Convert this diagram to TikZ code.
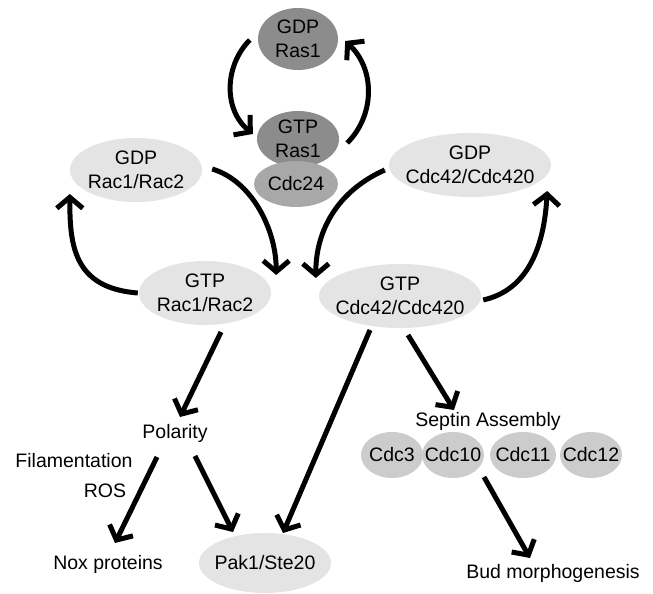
\documentclass[tikz,border=0pt]{standalone}
\usepackage{fontspec}
\setmainfont{Liberation Sans}
\usetikzlibrary{arrows.meta,shapes.geometric}
\definecolor{rasgray}{RGB}{140,140,140}
\definecolor{cdcgray}{RGB}{168,168,168}
\definecolor{sepgray}{RGB}{204,204,204}
\definecolor{lightg}{RGB}{228,228,228}
\newcommand\fsz{\fontsize{19.5}{23.5}\selectfont}
\begin{document}
\begin{tikzpicture}[x=1pt,y=1pt,
  ell/.style={ellipse,inner sep=-20pt,align=center,font=\fsz},
  lab/.style={inner sep=0pt,font=\fsz},
  arr/.style={line width=5pt,-{Straight Barb[length=11pt,width=26pt]}}]
\useasboundingbox (0,0) rectangle (653,594);
% GTPase ellipses
\node[ell,fill=lightg,minimum width=132pt,minimum height=64pt] (racgdp) at (136,424) {GDP\\Rac1/Rac2};
\node[ell,fill=lightg,minimum width=132pt,minimum height=64pt] (racgtp) at (205,301) {GTP\\Rac1/Rac2};
\node[ell,fill=lightg,minimum width=162pt,minimum height=64pt] (cdcgdp) at (470,429) {GDP\\Cdc42/Cdc420};
\node[ell,fill=lightg,minimum width=162pt,minimum height=64pt] (cdcgtp) at (400,298) {GTP\\Cdc42/Cdc420};
\node[ell,fill=rasgray,minimum width=80pt,minimum height=62pt] (rasgdp) at (298,555) {GDP\\Ras1};
\node[ell,fill=rasgray,minimum width=82pt,minimum height=56pt] (rasgtp) at (298,455) {GTP\\Ras1};
\node[ell,fill=cdcgray,minimum width=84pt,minimum height=46pt] (cdc24) at (296,410) {Cdc24};
\node[ell,fill=lightg,minimum width=132pt,minimum height=60pt] (pak) at (265,31) {Pak1/Ste20};
% septins
\node[ell,fill=sepgray,minimum width=62pt,minimum height=46pt] (cdc3) at (392,139) {Cdc3};
\node[ell,fill=sepgray,minimum width=62pt,minimum height=46pt] (cdc10) at (453,139) {Cdc10};
\node[ell,fill=sepgray,minimum width=66pt,minimum height=46pt] (cdc11) at (523,139) {Cdc11};
\node[ell,fill=sepgray,minimum width=62pt,minimum height=46pt] (cdc12) at (591,139) {Cdc12};
% plain labels
\node[lab] (pol) at (175,161) {Polarity};
\node[lab] (fil) at (74,133) {Filamentation};
\node[lab] (ros) at (105,103) {ROS};
\node[lab] (nox) at (108,30) {Nox proteins};
\node[lab] (sept) at (488,173) {Septin Assembly};
\node[lab] (bud) at (553,21) {Bud morphogenesis};
% Ras cycle
\draw[arr] ([shift={(-8,-1)}]rasgdp.west) .. controls +(-25,-25) and +(-30,25) .. ([shift={(-4,5)}]rasgtp.west);
\draw[arr] ([shift={(8,-4)}]rasgtp.east) .. controls +(28,28) and +(30,-28) .. ([shift={(7,-2)}]rasgdp.east);
% Rac cycle
\draw[arr] ([shift={(10,1)}]racgdp.east) .. controls +(40,-12) and +(0,45) .. ([shift={(5,18)}]racgtp.east);
\draw[arr] ([shift={(-1,0)}]racgtp.west) .. controls +(-65,5) and +(0,-50) .. ([shift={(0,-24)}]racgdp.west);
% Cdc42 cycle
\draw[arr] ([shift={(-4,-5)}]cdcgdp.west) .. controls +(-45,-20) and +(0,50) .. ([shift={(-3,18)}]cdcgtp.west);
\draw[arr] ([shift={(2,-4)}]cdcgtp.east) .. controls +(45,10) and +(-3,-55) .. ([shift={(-4,-26)}]cdcgdp.east);
% downstream
\draw[arr] ([shift={(16,-39)}]racgtp.center) -- ([shift={(5,16)}]pol.center);
\draw[arr] ([shift={(-18,-24)}]pol.center) -- ([shift={(7,21)}]nox.center);
\draw[arr] ([shift={(20,-23)}]pol.center) -- ([shift={(-32,31)}]pak.center);
\draw[arr] ([shift={(-30,-34)}]cdcgtp.center) -- ([shift={(18,30)}]pak.center);
\draw[arr] ([shift={(8,-39)}]cdcgtp.center) -- ([shift={(-34,11)}]sept.center);
\draw[arr] ([shift={(31,-22)}]cdc10.center) -- ([shift={(-23,15)}]bud.center);
\end{tikzpicture}
\end{document}
